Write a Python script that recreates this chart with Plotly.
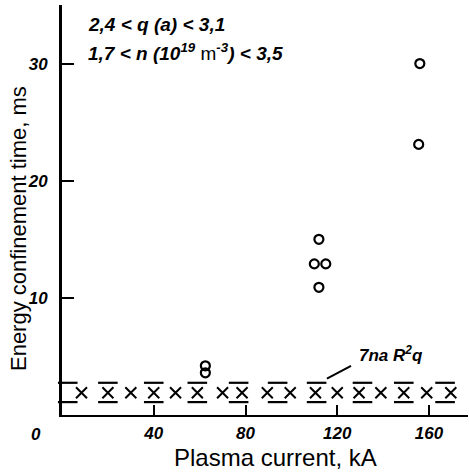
import plotly.graph_objects as go

# Data
circle_x = [156, 155.5, 112, 110, 115, 112, 62.5, 62.5]
circle_y = [30, 23.1, 15.0, 12.9, 12.9, 10.9, 4.2, 3.6]

cross_x = [8.5, 20, 30, 40, 49.5, 59, 70, 78.5, 89.5, 99.5, 110.5, 120, 129.5, 139, 149, 159, 169.5]
cross_y = [1.9] * len(cross_x)

band_x = [2.5, 20, 40, 59, 77, 94, 111, 131, 149, 167]
band_upper = [2.75] * len(band_x)
band_lower = [1.1] * len(band_x)

x_ticks = [40, 80, 120, 160]
y_ticks = [10, 20, 30]

tick_font = dict(family="Liberation Sans", size=17, color="black", style="italic", weight="bold")
label_font = dict(family="Liberation Sans", size=17, color="black", style="italic", weight="bold")
cond_font = dict(family="Liberation Sans", size=19, color="black", style="italic", weight="bold")

fig = go.Figure()
for yv in (band_upper, band_lower):
    fig.add_trace(go.Scatter(x=band_x, y=yv, mode="markers",
                             marker=dict(symbol="line-ew", size=14, color="black",
                                         line=dict(width=2.2, color="black")),
                             cliponaxis=False, showlegend=False))
fig.add_trace(go.Scatter(x=cross_x, y=cross_y, mode="markers",
                         marker=dict(symbol="x-thin-open", size=11, color="black",
                                     line=dict(width=2, color="black")),
                         showlegend=False))
fig.add_trace(go.Scatter(x=circle_x, y=circle_y, mode="markers",
                         marker=dict(symbol="circle-open", size=9, color="black",
                                     line=dict(width=2.2, color="black")),
                         showlegend=False))

# leader line for 7naR^2q
fig.add_shape(type="line", x0=115.5, y0=3.1, x1=126, y1=4.2, xref="x", yref="y",
              line=dict(color="black", width=2))
fig.add_annotation(x=128.5, y=5.25, xref="x", yref="y", xanchor="left", yanchor="middle",
                   text="7na R<sup>2</sup>q", showarrow=False, font=label_font)

fig.add_annotation(x=10.5, y=33.3, xref="x", yref="y", xanchor="left", yanchor="middle",
                   text="2,4 &lt; q (a) &lt; 3,1", showarrow=False, font=cond_font)
fig.add_annotation(x=10.5, y=31.0, xref="x", yref="y", xanchor="left", yanchor="middle",
                   text="1,7 &lt; n (10<sup>19</sup> <span style='font-style:normal;font-weight:normal'>m</span><sup>-3</sup>) &lt; 3,5",
                   showarrow=False, font=cond_font)
# origin label
fig.add_annotation(x=0, y=0, xref="x", yref="y", xanchor="center", yanchor="top",
                   xshift=-26, yshift=-8, text="0", showarrow=False, font=tick_font)

# axis titles
fig.add_annotation(x=0.527, y=-0.105, xref="paper", yref="paper", xanchor="center", yanchor="middle",
                   yshift=1, text="Plasma current, kA", showarrow=False,
                   font=dict(family="Liberation Sans", size=24, color="black"))
fig.add_annotation(x=-0.101, y=0.456, xref="paper", yref="paper", xanchor="center", yanchor="middle",
                   xshift=-3, text="Energy confinement time, ms", textangle=-90,
                   showarrow=False, font=dict(family="Liberation Sans", size=22, color="black"))

fig.update_layout(
    width=469, height=473,
    margin=dict(l=62, r=1, t=5, b=58),
    paper_bgcolor="white", plot_bgcolor="white",
    xaxis=dict(range=[0, 177], tickvals=x_ticks, ticktext=[str(v) for v in x_ticks],
               ticks="inside", ticklen=10, tickwidth=1.5, tickcolor="black",
               showline=True, linecolor="black", linewidth=2, showgrid=False, zeroline=False,
               tickfont=tick_font, automargin=False, ticklabelstandoff=2),
    yaxis=dict(range=[0, 35], tickvals=y_ticks, ticktext=[str(v) for v in y_ticks],
               ticks="inside", ticklen=12, tickwidth=1.5, tickcolor="black",
               showline=True, linecolor="black", linewidth=3, showgrid=False, zeroline=False,
               tickfont=tick_font, ticklabelstandoff=8, automargin=False),
)
fig.write_html("out.html", config={"displayModeBar": False},
               post_script="document.body.style.margin='0';")
